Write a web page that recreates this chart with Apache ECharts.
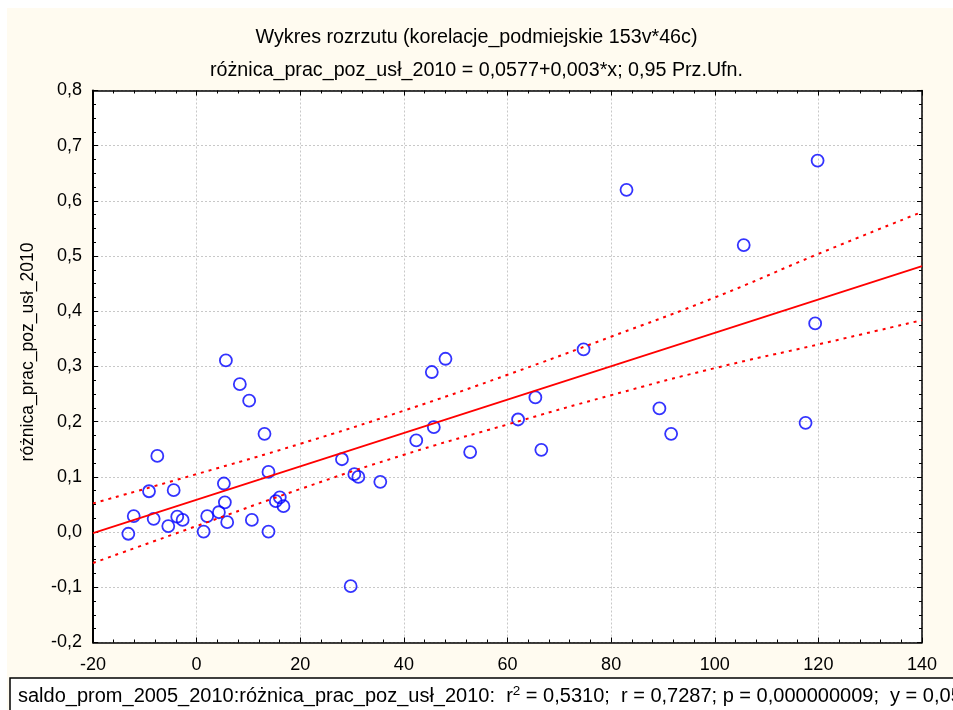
<!DOCTYPE html>
<html>
<head>
<meta charset="utf-8">
<script src="https://cdn.jsdelivr.net/npm/echarts@6/dist/echarts.min.js"></script>
<style>
  html, body { margin: 0; padding: 0; background: #fff; }
  #chart { width: 953px; height: 710px; }
</style>
</head>
<body>
<div id="chart"></div>
<script>
// punkty
const saldoX = [-13.18, -12.14, -9.19, -8.29, -7.59, -5.47, -4.43, -3.74, -2.70, 1.35,
  2.04, 4.30, 5.26, 5.45, 5.65, 5.90, 8.34, 10.14, 10.66, 13.10,
  13.87, 13.87, 15.28, 16.05, 16.76, 28.05, 29.73, 30.44, 31.21, 35.45,
  42.39, 45.39, 45.78, 48.03, 52.79, 62.04, 65.38, 66.53, 74.68, 82.97,
  89.32, 91.58, 105.59, 117.53, 119.38, 119.85]
const roznicaY = [-0.003, 0.029, 0.074, 0.024, 0.138, 0.011, 0.076, 0.028, 0.022, 0.001,
  0.029, 0.036, 0.088, 0.054, 0.311, 0.018, 0.268, 0.238, 0.022, 0.178,
  0.109, 0.001, 0.056, 0.063, 0.047, 0.132, -0.098, 0.105, 0.100, 0.091,
  0.166, 0.290, 0.190, 0.314, 0.145, 0.204, 0.244, 0.149, 0.331, 0.620,
  0.224, 0.178, 0.520, 0.198, 0.378, 0.673]

// linia regresji i przedziały ufności 0,95 (odczytane)
const lineX = [-20, 140]
const lineY = [-0.002, 0.482]
const bandX = [-20, 0, 20, 40, 60, 80, 100, 120, 140]
const upperY = [0.052, 0.105, 0.160, 0.220, 0.285, 0.354, 0.425, 0.504, 0.580]
const lowerY = [-0.056, 0.011, 0.078, 0.140, 0.195, 0.248, 0.297, 0.340, 0.384]

const xTicks = { min: -20, max: 140, interval: 20 }
const yTicks = { min: -0.2, max: 0.8, interval: 0.1 }

const font = "'Liberation Sans', Arial, sans-serif"
const zip = (a, b) => a.map((v, i) => [v, b[i]])
const fmtY = v => (Math.abs(v) < 1e-9 ? 0 : v).toFixed(1).replace('.', ',')

const chart = echarts.init(document.getElementById('chart'))

const frameAxis = (pos, extra) => Object.assign({
  type: 'value',
  position: pos,
  axisLine: { show: true, onZero: false, lineStyle: { color: '#000', width: 1.5 } },
  axisTick: { show: true, inside: true, length: 5, lineStyle: { color: '#000' } },
  minorTick: { show: true, length: 3, lineStyle: { color: '#000' } },
  axisLabel: { show: false },
  splitLine: { show: false }
}, extra)

chart.setOption({
  backgroundColor: '#fffbf0',
  animation: false,
  title: [
    { text: 'Wykres rozrzutu (korelacje_podmiejskie 153v*46c)', left: 'center', top: 23,
      textStyle: { fontSize: 19.7, fontWeight: 'normal', color: '#000', fontFamily: font } },
    { text: 'różnica_prac_poz_usł_2010 = 0,0577+0,003*x; 0,95 Prz.Ufn.', left: 'center', top: 56,
      textStyle: { fontSize: 19.7, fontWeight: 'normal', color: '#000', fontFamily: font } }
  ],
  grid: {
    left: 93, right: 31, top: 90.5, bottom: 67.5,
    show: true, backgroundColor: '#fff', borderWidth: 0
  },
  xAxis: [
    frameAxis('bottom', Object.assign({}, xTicks, {
      minorTick: { show: true, splitNumber: 5, length: 3, lineStyle: { color: '#000' } },
      axisLabel: { show: true, margin: 14, fontSize: 18, color: '#000', fontFamily: font },
      splitLine: { show: true, lineStyle: { color: '#c8c8c8', type: [2, 2], width: 1 } }
    })),
    frameAxis('top', Object.assign({}, xTicks, {
      minorTick: { show: true, splitNumber: 5, length: 3, lineStyle: { color: '#000' } }
    }))
  ],
  yAxis: [
    frameAxis('left', Object.assign({}, yTicks, {
      axisLine: { show: true, onZero: false, lineStyle: { color: '#000', width: 2 } },
      minorTick: { show: true, splitNumber: 4, length: 3, lineStyle: { color: '#000' } },
      axisLabel: { show: true, margin: 11, fontSize: 18, color: '#000', fontFamily: font, formatter: fmtY },
      splitLine: { show: true, lineStyle: { color: '#c8c8c8', type: [2, 2], width: 1 } }
    })),
    frameAxis('right', Object.assign({}, yTicks, {
      minorTick: { show: true, splitNumber: 4, length: 3, lineStyle: { color: '#000' } }
    }))
  ],
  series: [
    {
      type: 'line', data: zip(bandX, upperY), smooth: true, symbol: 'none', silent: true,
      lineStyle: { color: '#ff0000', width: 2, type: [3, 5] }
    },
    {
      type: 'line', data: zip(bandX, lowerY), smooth: true, symbol: 'none', silent: true,
      lineStyle: { color: '#ff0000', width: 2, type: [3, 5] }
    },
    {
      type: 'line', data: zip(lineX, lineY), symbol: 'none', silent: true,
      lineStyle: { color: '#ff0000', width: 1.8 }
    },
    {
      type: 'scatter', data: zip(saldoX, roznicaY), symbol: 'circle', symbolSize: 12,
      itemStyle: { color: 'rgba(0,0,0,0)', borderColor: '#0000ff', borderWidth: 1.8 }
    }
  ],
  graphic: [
    { type: 'rect', shape: { x: 0, y: 0, width: 953, height: 8 }, style: { fill: '#fff' }, silent: true },
    { type: 'rect', shape: { x: 0, y: 0, width: 7, height: 710 }, style: { fill: '#fff' }, silent: true },
    {
      type: 'text', x: 28, y: 352, rotation: Math.PI / 2,
      style: { text: 'różnica_prac_poz_usł_2010', fontSize: 17.5, fontFamily: font, fill: '#000',
        align: 'center', verticalAlign: 'middle' }
    },
    {
      type: 'rect', shape: { x: 10, y: 678, width: 960, height: 40 },
      style: { fill: '#fff', stroke: '#000', lineWidth: 1.5 }, silent: true
    },
    {
      type: 'text', x: 18, y: 696,
      style: {
        text: 'saldo_prom_2005_2010:różnica_prac_poz_usł_2010:  r{sup|2} = 0,5310;  r = 0,7287; p = 0,000000009;  y = 0,0577 + 0,003*x',
        fontSize: 20, fontFamily: font, fill: '#000', verticalAlign: 'middle',
        rich: { sup: { fontSize: 13.5, fontFamily: font, fill: '#000', verticalAlign: 'top', padding: [0, 0, 9, 0] } }
      }
    }
  ]
})
</script>
</body>
</html>
